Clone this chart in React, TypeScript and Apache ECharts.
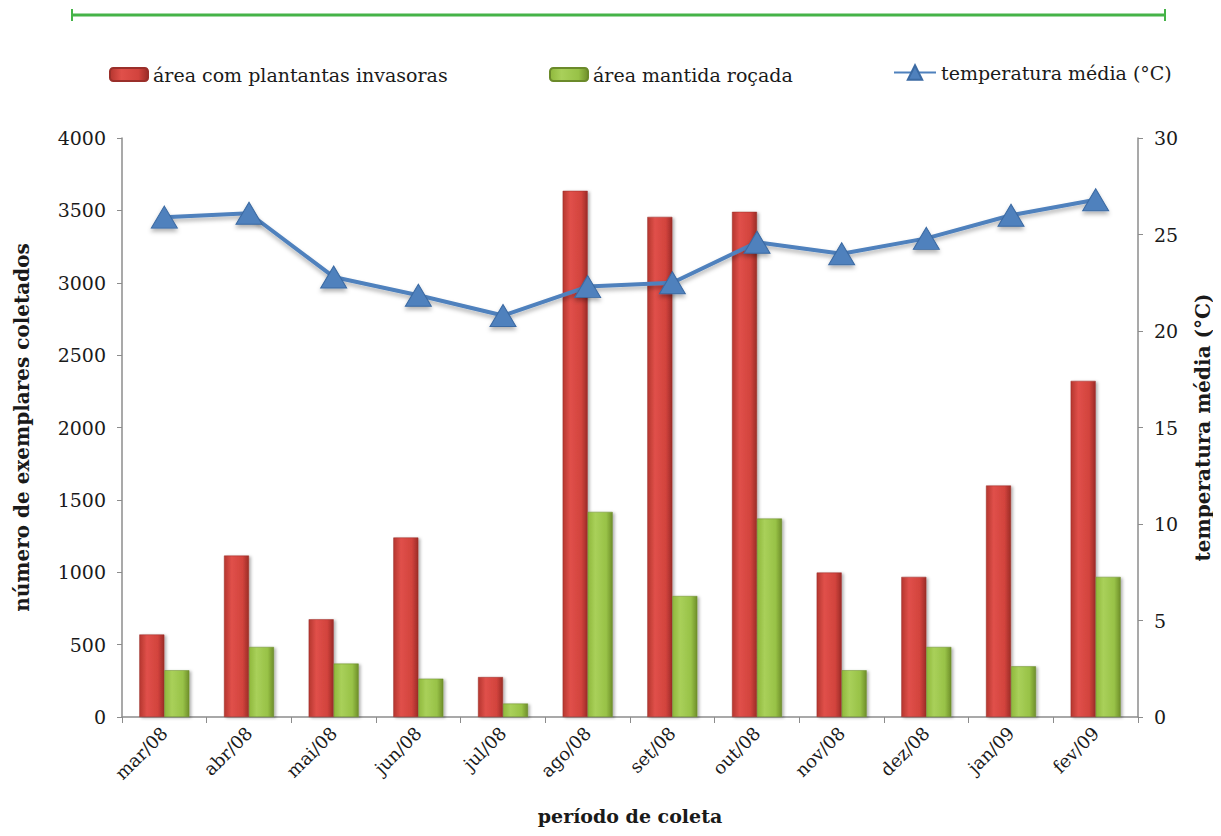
import React, { useEffect, useRef } from "react";
import * as echarts from "echarts";

const categories = ["mar/08", "abr/08", "mai/08", "jun/08", "jul/08", "ago/08", "set/08", "out/08", "nov/08", "dez/08", "jan/09", "fev/09"];
const invasoras = [570, 1115, 675, 1240, 276, 3635, 3455, 3490, 998, 968, 1599, 2322];
const rocada = [323, 484, 369, 265, 93, 1417, 836, 1371, 323, 484, 350, 968];
const temperatura = [25.9, 26.1, 22.8, 21.85, 20.8, 22.3, 22.5, 24.6, 24.0, 24.8, 26.0, 26.8];
const leftTicks = [0, 500, 1000, 1500, 2000, 2500, 3000, 3500, 4000];
const rightTicks = [0, 5, 10, 15, 20, 25, 30];

const nameInv = "área com plantantas invasoras";
const nameRoc = "área mantida roçada";
const nameTemp = "temperatura média (°C)";

const SERIF = "'DejaVu Serif', 'Liberation Serif', serif";
const TXT = "#1a1a1a";
const AXIS = "#8c8c8c";

const redGrad = new echarts.graphic.LinearGradient(0, 0, 1, 0, [
  { offset: 0, color: "#b5362f" },
  { offset: 0.3, color: "#e0504a" },
  { offset: 0.75, color: "#d2433d" },
  { offset: 1, color: "#9c2c27" },
]);
const greenGrad = new echarts.graphic.LinearGradient(0, 0, 1, 0, [
  { offset: 0, color: "#8fb83c" },
  { offset: 0.3, color: "#a9d05a" },
  { offset: 0.75, color: "#98c247" },
  { offset: 1, color: "#6f8f2a" },
]);

export default function App() {
  const ref = useRef<HTMLDivElement>(null);
  useEffect(() => {
    if (!ref.current) return;
    const chart = echarts.init(ref.current, null, { renderer: "svg" });
    const legendText = { fontFamily: SERIF, fontSize: 19, color: TXT };
    chart.setOption({
      animation: false,
      backgroundColor: "#ffffff",
      graphic: [
        { type: "line", shape: { x1: 72, y1: 15, x2: 1165, y2: 15 }, style: { stroke: "#45b348", lineWidth: 3 } },
        { type: "line", shape: { x1: 72, y1: 9, x2: 72, y2: 21 }, style: { stroke: "#45b348", lineWidth: 2 } },
        { type: "line", shape: { x1: 1165, y1: 9, x2: 1165, y2: 21 }, style: { stroke: "#45b348", lineWidth: 2 } },
      ],
      legend: [
        { data: [nameInv], left: 104, top: 60, itemWidth: 38, itemHeight: 13, itemGap: 4, textStyle: legendText },
        { data: [nameRoc], left: 544, top: 60, itemWidth: 38, itemHeight: 13, itemGap: 3, textStyle: legendText },
        { data: [nameTemp], left: 888, top: 58, itemWidth: 42, itemHeight: 18, itemGap: 2, textStyle: legendText },
      ],
      grid: { left: 122, right: 74, top: 138, bottom: 119 },
      xAxis: {
        type: "category",
        data: categories,
        boundaryGap: true,
        name: "período de coleta",
        nameLocation: "middle",
        nameGap: 89,
        nameTextStyle: { fontFamily: SERIF, fontSize: 19, fontWeight: "bold", color: TXT },
        axisLine: { lineStyle: { color: AXIS, width: 1.5 } },
        axisTick: { show: true, length: 6, alignWithLabel: false, lineStyle: { color: AXIS } },
        axisLabel: { rotate: 45, margin: 13, fontFamily: SERIF, fontSize: 18, color: TXT },
        splitLine: { show: false },
      },
      yAxis: [
        {
          type: "value",
          min: 0,
          max: 4000,
          interval: 500,
          name: "número de exemplares coletados",
          nameLocation: "middle",
          nameGap: 90,
          nameRotate: 90,
          nameTextStyle: { fontFamily: SERIF, fontSize: 20, fontWeight: "bold", color: TXT },
          axisLine: { show: true, lineStyle: { color: AXIS, width: 1.5 } },
          axisTick: { show: true, length: 5, lineStyle: { color: AXIS } },
          axisLabel: {
            margin: 16,
            fontFamily: SERIF,
            fontSize: 19,
            color: TXT,
            formatter: (v: number) => (leftTicks.includes(v) ? String(v) : ""),
          },
          splitLine: { show: false },
        },
        {
          type: "value",
          min: 0,
          max: 30,
          interval: 5,
          position: "right",
          name: nameTemp,
          nameLocation: "middle",
          nameGap: 55,
          nameRotate: 90,
          nameTextStyle: { fontFamily: SERIF, fontSize: 20, fontWeight: "bold", color: TXT },
          axisLine: { show: true, lineStyle: { color: AXIS, width: 1.5 } },
          axisTick: { show: true, length: 5, lineStyle: { color: AXIS } },
          axisLabel: {
            margin: 16,
            fontFamily: SERIF,
            fontSize: 19,
            color: TXT,
            formatter: (v: number) => (rightTicks.includes(v) ? String(v) : ""),
          },
          splitLine: { show: false },
        },
      ],
      series: [
        {
          name: nameInv,
          type: "bar",
          data: invasoras,
          barWidth: 25,
          barGap: "0%",
          itemStyle: {
            color: redGrad,
            borderColor: "#9a2f2a",
            borderWidth: 0.5,
            shadowColor: "rgba(0,0,0,0.3)",
            shadowBlur: 3,
            shadowOffsetX: 2,
            shadowOffsetY: 1,
          },
        },
        {
          name: nameRoc,
          type: "bar",
          data: rocada,
          barWidth: 25,
          barGap: "0%",
          itemStyle: {
            color: greenGrad,
            borderColor: "#6b8a2a",
            borderWidth: 0.5,
            shadowColor: "rgba(0,0,0,0.3)",
            shadowBlur: 3,
            shadowOffsetX: 2,
            shadowOffsetY: 1,
          },
        },
        {
          name: nameTemp,
          type: "line",
          yAxisIndex: 1,
          data: temperatura,
          symbol: "triangle",
          symbolSize: [26, 22],
          lineStyle: {
            color: "#4f81bd",
            width: 4,
            shadowColor: "rgba(0,0,0,0.3)",
            shadowBlur: 4,
            shadowOffsetY: 3,
          },
          itemStyle: {
            color: "#4f81bd",
            borderColor: "#3b6aa3",
            borderWidth: 1,
            shadowColor: "rgba(0,0,0,0.3)",
            shadowBlur: 4,
            shadowOffsetY: 3,
          },
          z: 5,
        },
      ],
    });
    return () => chart.dispose();
  }, []);
  return <div ref={ref} style={{ width: 1221, height: 836, margin: -8 }} />;
}
